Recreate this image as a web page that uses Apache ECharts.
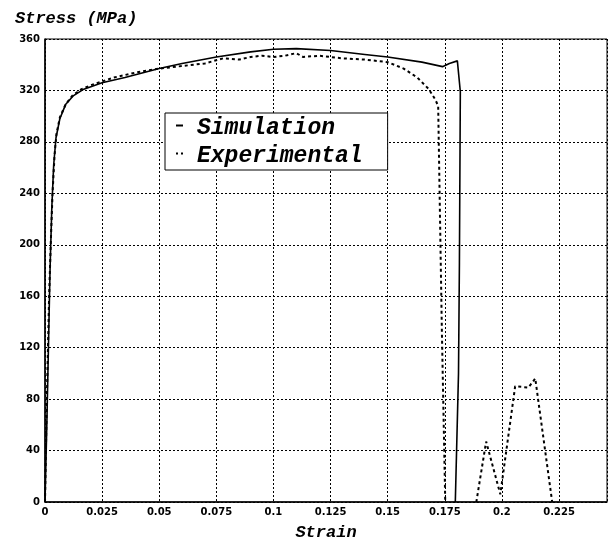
<!DOCTYPE html>
<html>
<head>
<meta charset="utf-8">
<script src="https://cdn.jsdelivr.net/npm/echarts@6/dist/echarts.min.js"></script>
<style>html,body{margin:0;padding:0;background:#fff}#c{width:611px;height:546px}</style>
</head>
<body>
<div id="c"></div>
<script>
var seriesNames = ['Simulation', 'Experimental'];
var xTicks = [0, 0.025, 0.05, 0.075, 0.1, 0.125, 0.15, 0.175, 0.2, 0.225];
var yTicks = [0, 40, 80, 120, 160, 200, 240, 280, 320, 360];

var simulation = [
  [0,0],[0.0008,60],[0.0015,120],[0.0022,180],[0.003,230],[0.0038,262],[0.0048,283],
  [0.0065,298],[0.009,309],[0.0125,316],[0.017,321],[0.025,326],[0.035,330],[0.05,337],
  [0.06,341],[0.075,346],[0.09,350],[0.1,352],[0.11,352.5],[0.125,351],[0.14,348],
  [0.15,346],[0.165,342],[0.174,338.5],[0.177,341],[0.1805,343],[0.1818,319],
  [0.1814,186],[0.1810,100],[0.1796,0]
];
var experimental = [
  [0,0],[0.0004,40],[0.0008,80],[0.0013,120],[0.0018,160],[0.0025,200],[0.0033,240],
  [0.0042,270],[0.005,286],[0.0065,299],[0.009,309],[0.012,316],[0.016,321],[0.02,324],
  [0.025,327],[0.03,330],[0.04,334],[0.05,337],[0.06,339],[0.07,341],[0.078,345],
  [0.085,344],[0.09,346],[0.095,347],[0.1,346],[0.105,347],[0.11,349],[0.113,346],
  [0.12,347],[0.13,345],[0.14,344],[0.15,342],[0.157,337],[0.163,330],[0.168,321],
  [0.1708,313],[0.1721,308],[0.1737,135],[0.1752,0],[0.182,null],
  [0.1888,0],[0.1931,47],[0.1993,6],[0.2058,90],[0.2116,89],[0.2146,96],[0.2220,0]
];

var chart = echarts.init(document.getElementById('c'), null, {renderer: 'canvas'});
var labelFont = {color: '#000', fontFamily: 'DejaVu Sans', fontWeight: 'bold', fontSize: 10};
chart.setOption({
  animation: false,
  backgroundColor: '#fff',
  title: {
    text: 'Stress (MPa)', left: 10, top: 5,
    textStyle: {fontFamily: 'Liberation Mono', fontStyle: 'italic', fontWeight: 'bold', fontSize: 17, color: '#000'}
  },
  legend: {
    data: [
      {name: seriesNames[0], icon: 'path://M0,0 L7,0 L7,2 L0,2 Z M16,8 L16,8'},
      {name: seriesNames[1], icon: 'path://M0,0 L2,0 L2,2 L0,2 Z M5,0 L7,0 L7,2 L5,2 Z M16,8 L16,8'}
    ],
    orient: 'vertical', left: 165, top: 113,
    padding: [4, 25, 2, 11], itemGap: 5, itemWidth: 16, itemHeight: 8,
    backgroundColor: '#fff', borderColor: '#000', borderWidth: 1,
    itemStyle: {color: '#000', borderWidth: 0},
    textStyle: {fontFamily: 'Liberation Mono', fontStyle: 'italic', fontWeight: 'bold', fontSize: 23, color: '#000'}
  },
  grid: {left: 45, right: 4, top: 39, bottom: 36, show: true, borderColor: '#000', borderWidth: 1, backgroundColor: 'transparent'},
  xAxis: {
    type: 'value', min: 0, max: 0.246, interval: 0.025,
    name: 'Strain', nameLocation: 'middle', nameGap: 22,
    nameTextStyle: {fontFamily: 'Liberation Mono', fontStyle: 'italic', fontWeight: 'bold', fontSize: 17, color: '#000'},
    axisLine: {lineStyle: {color: '#000', width: 1.5}},
    axisTick: {show: false},
    axisLabel: Object.assign({margin: 5, showMaxLabel: false, formatter: function (v) {
      return xTicks.some(function (t) { return Math.abs(t - v) < 1e-9; }) ? String(+v.toFixed(3)) : '';
    }}, labelFont),
    splitLine: {show: true, lineStyle: {color: '#000', type: [2, 2], width: 1}}
  },
  yAxis: {
    type: 'value', min: 0, max: 360, interval: 40,
    axisLine: {show: true, lineStyle: {color: '#000', width: 1.5}},
    axisTick: {show: false},
    axisLabel: Object.assign({margin: 5, formatter: function (v) { return yTicks.indexOf(v) >= 0 ? String(v) : ''; }}, labelFont),
    splitLine: {show: true, lineStyle: {color: '#000', type: [2, 2], width: 1}}
  },
  series: [
    {name: seriesNames[0], type: 'line', data: simulation, symbol: 'none', z: 3,
      lineStyle: {color: '#000', width: 1.6}, itemStyle: {color: '#000'}},
    {name: seriesNames[1], type: 'line', data: experimental, symbol: 'none', connectNulls: false, z: 3,
      lineStyle: {color: '#000', width: 2, type: [3, 3]}, itemStyle: {color: '#000'}}
  ]
});
</script>
</body>
</html>
